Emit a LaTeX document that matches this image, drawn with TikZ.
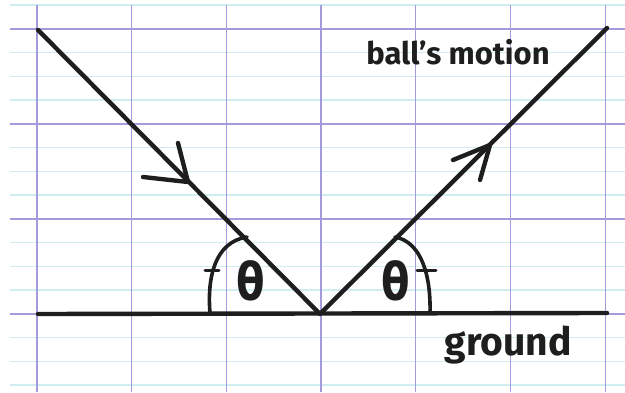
\documentclass[tikz,border=0pt]{standalone}
\usepackage{fontspec}
\setmainfont{Fira Sans}
\newfontfamily\thetafont{DejaVu Sans}
\definecolor{gridpurple}{RGB}{165,155,220}
\definecolor{gridcyan}{RGB}{208,238,242}
\definecolor{ink}{RGB}{30,30,30}
\begin{document}
\begin{tikzpicture}[x=1pt,y=1pt,
  inkline/.style={draw=ink,line width=4.4pt,line cap=round,line join=round},
  inkarc/.style={draw=ink,line width=3.6pt,line cap=round},
  chevron/.style={draw=ink,line width=4.4pt,line cap=round,line join=round},
  tick/.style={draw=ink,line width=3pt,line cap=round},
  thetalabel/.style={inner sep=0pt,text=ink,font=\thetafont\bfseries\fontsize{52}{52}\selectfont,xscale=0.8},
  handtext/.style={inner sep=0pt,text=ink}]
\useasboundingbox (0,0) rectangle (625,392);
\fill[white] (0,0) rectangle (625,392);
% paper grid
\foreach \k in {0,...,16}
  \draw[gridcyan,line width=1.2pt] (10,{387-23.75*\k}) -- (625,{387-23.75*\k});
\foreach \k in {0,...,3}
  \draw[gridpurple,line width=1.6pt] (10,{363.25-95*\k}) -- (625,{363.25-95*\k});
\foreach \k in {0,...,6}
  \draw[gridpurple,line width=1.3pt] ({37+94.7*\k},0) -- ({37+94.7*\k},387);
% key points
\coordinate (A) at (38,362);
\coordinate (B) at (320,78);
\coordinate (C) at (607,364);
\coordinate (G1) at (38,78);
\coordinate (G2) at (607,79);
% ground and path
\draw[inkline] (G1) -- (G2);
\draw[inkline] (A) -- (B) -- (C);
% arrow chevrons
\coordinate (L0) at (188,210);
\coordinate (L1) at (143,215);
\coordinate (L2) at (178,249);
\draw[chevron] (L1) -- (L0) -- (L2);
\coordinate (R0) at (490,247);
\coordinate (R1) at (453,232);
\coordinate (R2) at (480,212);
\draw[chevron] (R1) -- (R0) -- (R2);
% angle arcs
\coordinate (S1) at (247,155);
\coordinate (E1) at (210,79);
\draw[inkarc] (S1) .. controls (215,150) and (207,115) .. (E1);
\coordinate (S2) at (395,155);
\coordinate (E2) at (430,79);
\draw[inkarc] (S2) .. controls (422,150) and (431,115) .. (E2);
% equal-angle ticks
\coordinate (T1a) at (205,122);
\coordinate (T1b) at (219,122);
\draw[tick] (T1a) -- (T1b);
\coordinate (T2a) at (417,122);
\coordinate (T2b) at (436,122);
\draw[tick] (T2a) -- (T2b);
% labels
\node[thetalabel] (th1) at (251,111) {θ};
\node[thetalabel] (th2) at (396,111) {θ};
\node[handtext,anchor=base,font=\fontsize{31}{31}\selectfont\bfseries] (motion) at (458,327) {ball’s motion};
\node[handtext,anchor=base,font=\fontsize{39}{39}\selectfont\bfseries] (ground) at (508,37) {ground};
\end{tikzpicture}
\end{document}
